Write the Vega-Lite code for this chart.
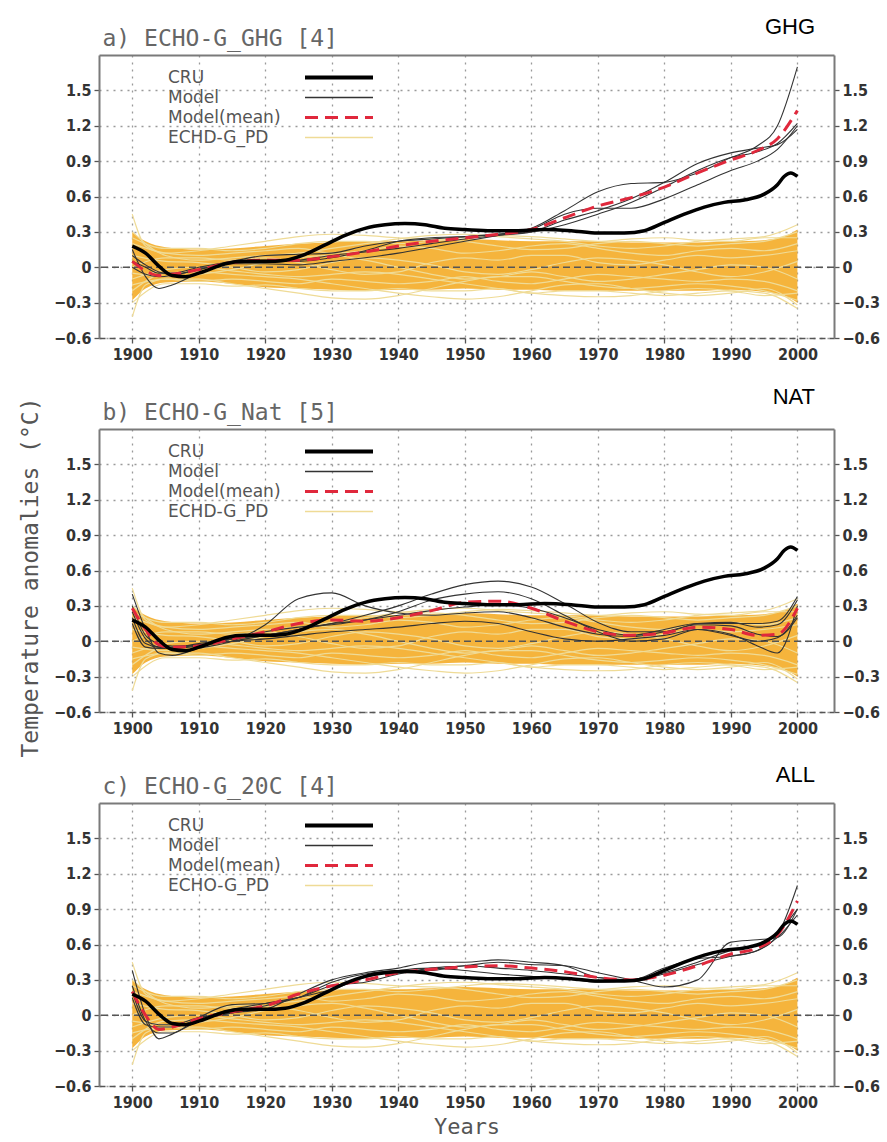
{
  "$schema": "https://vega.github.io/schema/vega-lite/v6.json",
  "padding": {"left": 19, "top": 16, "right": 5, "bottom": 0},
  "bounds": "flush",
  "spacing": 91,
  "resolve": {"scale": {"color": "independent"}, "legend": {"color": "independent"}},
  "datasets": {
    "cru": [
      {"year":1900,"t":0.18},{"year":1902,"t":0.12},{"year":1904,"t":0.01},{"year":1906,"t":-0.07},{"year":1908,"t":-0.08},{"year":1910,"t":-0.05},{"year":1912,"t":-0.01},{"year":1914,"t":0.03},{"year":1917,"t":0.05},{"year":1920,"t":0.05},{"year":1923,"t":0.06},{"year":1926,"t":0.11},{"year":1929,"t":0.19},{"year":1932,"t":0.27},{"year":1935,"t":0.33},{"year":1938,"t":0.36},{"year":1941,"t":0.37},{"year":1944,"t":0.36},{"year":1947,"t":0.33},{"year":1950,"t":0.32},{"year":1954,"t":0.31},{"year":1958,"t":0.31},{"year":1962,"t":0.32},{"year":1966,"t":0.31},{"year":1970,"t":0.29},{"year":1974,"t":0.29},{"year":1977,"t":0.31},{"year":1980,"t":0.38},{"year":1983,"t":0.45},{"year":1986,"t":0.51},{"year":1989,"t":0.55},{"year":1992,"t":0.57},{"year":1995,"t":0.62},{"year":1997,"t":0.70},{"year":1998,"t":0.77},{"year":1999,"t":0.80},{"year":2000,"t":0.77}
    ],
    "pdBand": [
      {"year":1900,"lo":-0.28,"hi":0.30},{"year":1902,"lo":-0.18,"hi":0.22},{"year":1905,"lo":-0.13,"hi":0.17},{"year":1910,"lo":-0.12,"hi":0.15},{"year":1915,"lo":-0.14,"hi":0.16},{"year":1920,"lo":-0.17,"hi":0.18},{"year":1925,"lo":-0.18,"hi":0.20},{"year":1930,"lo":-0.19,"hi":0.21},{"year":1935,"lo":-0.20,"hi":0.22},{"year":1940,"lo":-0.19,"hi":0.22},{"year":1945,"lo":-0.19,"hi":0.23},{"year":1950,"lo":-0.18,"hi":0.24},{"year":1955,"lo":-0.19,"hi":0.23},{"year":1960,"lo":-0.19,"hi":0.22},{"year":1965,"lo":-0.20,"hi":0.22},{"year":1970,"lo":-0.20,"hi":0.22},{"year":1975,"lo":-0.20,"hi":0.21},{"year":1980,"lo":-0.20,"hi":0.21},{"year":1985,"lo":-0.20,"hi":0.21},{"year":1990,"lo":-0.19,"hi":0.22},{"year":1995,"lo":-0.21,"hi":0.23},{"year":1998,"lo":-0.24,"hi":0.26},{"year":2000,"lo":-0.30,"hi":0.32}
    ],
    "pdLines": [
      {"run":"p1","year":1900,"t":0.45},{"run":"p1","year":1902,"t":0.18},{"run":"p1","year":1905,"t":0.12},{"run":"p1","year":1910,"t":0.14},{"run":"p1","year":1915,"t":0.18},{"run":"p1","year":1920,"t":0.22},{"run":"p1","year":1925,"t":0.26},{"run":"p1","year":1930,"t":0.28},{"run":"p1","year":1935,"t":0.27},{"run":"p1","year":1940,"t":0.25},{"run":"p1","year":1945,"t":0.24},{"run":"p1","year":1950,"t":0.22},{"run":"p1","year":1955,"t":0.18},{"run":"p1","year":1960,"t":0.15},{"run":"p1","year":1965,"t":0.16},{"run":"p1","year":1970,"t":0.20},{"run":"p1","year":1975,"t":0.22},{"run":"p1","year":1980,"t":0.20},{"run":"p1","year":1985,"t":0.18},{"run":"p1","year":1990,"t":0.20},{"run":"p1","year":1995,"t":0.22},{"run":"p1","year":2000,"t":0.30},
      {"run":"p2","year":1900,"t":-0.42},{"run":"p2","year":1902,"t":-0.15},{"run":"p2","year":1905,"t":-0.10},{"run":"p2","year":1910,"t":-0.10},{"run":"p2","year":1915,"t":-0.14},{"run":"p2","year":1920,"t":-0.18},{"run":"p2","year":1925,"t":-0.22},{"run":"p2","year":1930,"t":-0.26},{"run":"p2","year":1935,"t":-0.27},{"run":"p2","year":1940,"t":-0.24},{"run":"p2","year":1945,"t":-0.18},{"run":"p2","year":1950,"t":-0.12},{"run":"p2","year":1955,"t":-0.08},{"run":"p2","year":1960,"t":-0.08},{"run":"p2","year":1965,"t":-0.12},{"run":"p2","year":1970,"t":-0.16},{"run":"p2","year":1975,"t":-0.18},{"run":"p2","year":1980,"t":-0.16},{"run":"p2","year":1985,"t":-0.14},{"run":"p2","year":1990,"t":-0.16},{"run":"p2","year":1995,"t":-0.20},{"run":"p2","year":2000,"t":-0.28},
      {"run":"p3","year":1900,"t":-0.20},{"run":"p3","year":1905,"t":-0.05},{"run":"p3","year":1910,"t":-0.04},{"run":"p3","year":1915,"t":-0.06},{"run":"p3","year":1920,"t":-0.08},{"run":"p3","year":1925,"t":-0.10},{"run":"p3","year":1930,"t":-0.14},{"run":"p3","year":1935,"t":-0.18},{"run":"p3","year":1940,"t":-0.22},{"run":"p3","year":1945,"t":-0.25},{"run":"p3","year":1950,"t":-0.27},{"run":"p3","year":1955,"t":-0.25},{"run":"p3","year":1960,"t":-0.20},{"run":"p3","year":1965,"t":-0.15},{"run":"p3","year":1970,"t":-0.14},{"run":"p3","year":1975,"t":-0.18},{"run":"p3","year":1980,"t":-0.22},{"run":"p3","year":1985,"t":-0.24},{"run":"p3","year":1990,"t":-0.22},{"run":"p3","year":1995,"t":-0.18},{"run":"p3","year":2000,"t":-0.32},
      {"run":"p4","year":1900,"t":-0.10},{"run":"p4","year":1905,"t":-0.02},{"run":"p4","year":1910,"t":0.00},{"run":"p4","year":1915,"t":-0.03},{"run":"p4","year":1920,"t":-0.06},{"run":"p4","year":1925,"t":-0.08},{"run":"p4","year":1930,"t":-0.06},{"run":"p4","year":1935,"t":-0.04},{"run":"p4","year":1940,"t":-0.06},{"run":"p4","year":1945,"t":-0.10},{"run":"p4","year":1950,"t":-0.14},{"run":"p4","year":1955,"t":-0.18},{"run":"p4","year":1960,"t":-0.22},{"run":"p4","year":1965,"t":-0.24},{"run":"p4","year":1970,"t":-0.25},{"run":"p4","year":1975,"t":-0.24},{"run":"p4","year":1980,"t":-0.20},{"run":"p4","year":1985,"t":-0.18},{"run":"p4","year":1990,"t":-0.20},{"run":"p4","year":1995,"t":-0.24},{"run":"p4","year":2000,"t":-0.22},
      {"run":"p5","year":1900,"t":0.30},{"run":"p5","year":1905,"t":0.10},{"run":"p5","year":1910,"t":0.06},{"run":"p5","year":1915,"t":0.08},{"run":"p5","year":1920,"t":0.10},{"run":"p5","year":1925,"t":0.12},{"run":"p5","year":1930,"t":0.16},{"run":"p5","year":1935,"t":0.20},{"run":"p5","year":1940,"t":0.24},{"run":"p5","year":1945,"t":0.27},{"run":"p5","year":1950,"t":0.28},{"run":"p5","year":1955,"t":0.26},{"run":"p5","year":1960,"t":0.24},{"run":"p5","year":1965,"t":0.22},{"run":"p5","year":1970,"t":0.18},{"run":"p5","year":1975,"t":0.16},{"run":"p5","year":1980,"t":0.18},{"run":"p5","year":1985,"t":0.22},{"run":"p5","year":1990,"t":0.24},{"run":"p5","year":1995,"t":0.26},{"run":"p5","year":2000,"t":0.36},
      {"run":"p6","year":1900,"t":0.10},{"run":"p6","year":1905,"t":0.05},{"run":"p6","year":1910,"t":0.04},{"run":"p6","year":1915,"t":0.00},{"run":"p6","year":1920,"t":-0.04},{"run":"p6","year":1925,"t":-0.02},{"run":"p6","year":1930,"t":0.04},{"run":"p6","year":1935,"t":0.08},{"run":"p6","year":1940,"t":0.06},{"run":"p6","year":1945,"t":0.02},{"run":"p6","year":1950,"t":-0.04},{"run":"p6","year":1955,"t":-0.06},{"run":"p6","year":1960,"t":-0.02},{"run":"p6","year":1965,"t":0.04},{"run":"p6","year":1970,"t":0.08},{"run":"p6","year":1975,"t":0.06},{"run":"p6","year":1980,"t":0.02},{"run":"p6","year":1985,"t":-0.04},{"run":"p6","year":1990,"t":-0.08},{"run":"p6","year":1995,"t":-0.04},{"run":"p6","year":2000,"t":0.05},
      {"run":"p7","year":1900,"t":-0.05},{"run":"p7","year":1905,"t":-0.08},{"run":"p7","year":1910,"t":-0.06},{"run":"p7","year":1915,"t":-0.02},{"run":"p7","year":1920,"t":0.04},{"run":"p7","year":1925,"t":0.08},{"run":"p7","year":1930,"t":0.10},{"run":"p7","year":1935,"t":0.06},{"run":"p7","year":1940,"t":0.00},{"run":"p7","year":1945,"t":-0.06},{"run":"p7","year":1950,"t":-0.10},{"run":"p7","year":1955,"t":-0.08},{"run":"p7","year":1960,"t":-0.04},{"run":"p7","year":1965,"t":-0.08},{"run":"p7","year":1970,"t":-0.12},{"run":"p7","year":1975,"t":-0.10},{"run":"p7","year":1980,"t":-0.06},{"run":"p7","year":1985,"t":-0.02},{"run":"p7","year":1990,"t":0.02},{"run":"p7","year":1995,"t":0.00},{"run":"p7","year":2000,"t":-0.10},
      {"run":"p8","year":1900,"t":0.20},{"run":"p8","year":1905,"t":0.12},{"run":"p8","year":1910,"t":0.10},{"run":"p8","year":1915,"t":0.12},{"run":"p8","year":1920,"t":0.14},{"run":"p8","year":1925,"t":0.16},{"run":"p8","year":1930,"t":0.12},{"run":"p8","year":1935,"t":0.14},{"run":"p8","year":1940,"t":0.18},{"run":"p8","year":1945,"t":0.16},{"run":"p8","year":1950,"t":0.12},{"run":"p8","year":1955,"t":0.14},{"run":"p8","year":1960,"t":0.18},{"run":"p8","year":1965,"t":0.20},{"run":"p8","year":1970,"t":0.16},{"run":"p8","year":1975,"t":0.12},{"run":"p8","year":1980,"t":0.10},{"run":"p8","year":1985,"t":0.14},{"run":"p8","year":1990,"t":0.16},{"run":"p8","year":1995,"t":0.14},{"run":"p8","year":2000,"t":0.20},
      {"run":"p9","year":1900,"t":-0.15},{"run":"p9","year":1905,"t":-0.10},{"run":"p9","year":1910,"t":-0.12},{"run":"p9","year":1915,"t":-0.10},{"run":"p9","year":1920,"t":-0.12},{"run":"p9","year":1925,"t":-0.14},{"run":"p9","year":1930,"t":-0.10},{"run":"p9","year":1935,"t":-0.12},{"run":"p9","year":1940,"t":-0.14},{"run":"p9","year":1945,"t":-0.12},{"run":"p9","year":1950,"t":-0.08},{"run":"p9","year":1955,"t":-0.12},{"run":"p9","year":1960,"t":-0.14},{"run":"p9","year":1965,"t":-0.10},{"run":"p9","year":1970,"t":-0.06},{"run":"p9","year":1975,"t":-0.08},{"run":"p9","year":1980,"t":-0.10},{"run":"p9","year":1985,"t":-0.12},{"run":"p9","year":1990,"t":-0.10},{"run":"p9","year":1995,"t":-0.12},{"run":"p9","year":2000,"t":-0.20},
      {"run":"p10","year":1900,"t":0.00},{"run":"p10","year":1905,"t":0.08},{"run":"p10","year":1910,"t":0.08},{"run":"p10","year":1915,"t":0.06},{"run":"p10","year":1920,"t":0.08},{"run":"p10","year":1925,"t":0.04},{"run":"p10","year":1930,"t":-0.02},{"run":"p10","year":1935,"t":-0.06},{"run":"p10","year":1940,"t":-0.04},{"run":"p10","year":1945,"t":0.04},{"run":"p10","year":1950,"t":0.08},{"run":"p10","year":1955,"t":0.06},{"run":"p10","year":1960,"t":0.10},{"run":"p10","year":1965,"t":0.10},{"run":"p10","year":1970,"t":0.04},{"run":"p10","year":1975,"t":0.02},{"run":"p10","year":1980,"t":0.06},{"run":"p10","year":1985,"t":0.10},{"run":"p10","year":1990,"t":0.08},{"run":"p10","year":1995,"t":0.10},{"run":"p10","year":2000,"t":0.14},
      {"run":"p11","year":1900,"t":0.25},{"run":"p11","year":1905,"t":0.16},{"run":"p11","year":1910,"t":0.16},{"run":"p11","year":1915,"t":0.14},{"run":"p11","year":1920,"t":0.16},{"run":"p11","year":1925,"t":0.20},{"run":"p11","year":1930,"t":0.22},{"run":"p11","year":1935,"t":0.22},{"run":"p11","year":1940,"t":0.20},{"run":"p11","year":1945,"t":0.22},{"run":"p11","year":1950,"t":0.25},{"run":"p11","year":1955,"t":0.27},{"run":"p11","year":1960,"t":0.26},{"run":"p11","year":1965,"t":0.24},{"run":"p11","year":1970,"t":0.22},{"run":"p11","year":1975,"t":0.24},{"run":"p11","year":1980,"t":0.25},{"run":"p11","year":1985,"t":0.23},{"run":"p11","year":1990,"t":0.22},{"run":"p11","year":1995,"t":0.25},{"run":"p11","year":2000,"t":0.25},
      {"run":"p12","year":1900,"t":-0.30},{"run":"p12","year":1905,"t":-0.14},{"run":"p12","year":1910,"t":-0.14},{"run":"p12","year":1915,"t":-0.16},{"run":"p12","year":1920,"t":-0.15},{"run":"p12","year":1925,"t":-0.18},{"run":"p12","year":1930,"t":-0.20},{"run":"p12","year":1935,"t":-0.20},{"run":"p12","year":1940,"t":-0.18},{"run":"p12","year":1945,"t":-0.20},{"run":"p12","year":1950,"t":-0.20},{"run":"p12","year":1955,"t":-0.18},{"run":"p12","year":1960,"t":-0.22},{"run":"p12","year":1965,"t":-0.20},{"run":"p12","year":1970,"t":-0.20},{"run":"p12","year":1975,"t":-0.22},{"run":"p12","year":1980,"t":-0.24},{"run":"p12","year":1985,"t":-0.22},{"run":"p12","year":1990,"t":-0.20},{"run":"p12","year":1995,"t":-0.22},{"run":"p12","year":2000,"t":-0.35}
    ],
    "ghgRuns": [
      {"run":"g1","year":1900,"t":0.15},{"run":"g1","year":1902,"t":-0.08},{"run":"g1","year":1904,"t":-0.18},{"run":"g1","year":1906,"t":-0.15},{"run":"g1","year":1910,"t":-0.05},{"run":"g1","year":1915,"t":0.04},{"run":"g1","year":1920,"t":0.06},{"run":"g1","year":1925,"t":0.05},{"run":"g1","year":1930,"t":0.08},{"run":"g1","year":1935,"t":0.14},{"run":"g1","year":1940,"t":0.22},{"run":"g1","year":1945,"t":0.25},{"run":"g1","year":1950,"t":0.26},{"run":"g1","year":1955,"t":0.28},{"run":"g1","year":1960,"t":0.33},{"run":"g1","year":1965,"t":0.48},{"run":"g1","year":1970,"t":0.64},{"run":"g1","year":1975,"t":0.71},{"run":"g1","year":1980,"t":0.72},{"run":"g1","year":1985,"t":0.80},{"run":"g1","year":1990,"t":0.93},{"run":"g1","year":1994,"t":1.03},{"run":"g1","year":1997,"t":1.20},{"run":"g1","year":2000,"t":1.70},
      {"run":"g2","year":1900,"t":0.05},{"run":"g2","year":1902,"t":0.00},{"run":"g2","year":1904,"t":-0.05},{"run":"g2","year":1906,"t":-0.05},{"run":"g2","year":1910,"t":0.00},{"run":"g2","year":1915,"t":0.05},{"run":"g2","year":1920,"t":0.10},{"run":"g2","year":1925,"t":0.11},{"run":"g2","year":1930,"t":0.12},{"run":"g2","year":1935,"t":0.18},{"run":"g2","year":1940,"t":0.22},{"run":"g2","year":1945,"t":0.24},{"run":"g2","year":1950,"t":0.26},{"run":"g2","year":1955,"t":0.28},{"run":"g2","year":1960,"t":0.30},{"run":"g2","year":1965,"t":0.36},{"run":"g2","year":1970,"t":0.45},{"run":"g2","year":1975,"t":0.55},{"run":"g2","year":1980,"t":0.68},{"run":"g2","year":1985,"t":0.82},{"run":"g2","year":1990,"t":0.93},{"run":"g2","year":1994,"t":0.98},{"run":"g2","year":1997,"t":1.05},{"run":"g2","year":2000,"t":1.22},
      {"run":"g3","year":1900,"t":0.00},{"run":"g3","year":1902,"t":-0.06},{"run":"g3","year":1904,"t":-0.08},{"run":"g3","year":1906,"t":-0.07},{"run":"g3","year":1910,"t":-0.02},{"run":"g3","year":1915,"t":0.03},{"run":"g3","year":1920,"t":0.03},{"run":"g3","year":1925,"t":0.02},{"run":"g3","year":1930,"t":0.05},{"run":"g3","year":1935,"t":0.08},{"run":"g3","year":1940,"t":0.12},{"run":"g3","year":1945,"t":0.17},{"run":"g3","year":1950,"t":0.22},{"run":"g3","year":1955,"t":0.27},{"run":"g3","year":1960,"t":0.32},{"run":"g3","year":1965,"t":0.45},{"run":"g3","year":1970,"t":0.50},{"run":"g3","year":1975,"t":0.50},{"run":"g3","year":1980,"t":0.58},{"run":"g3","year":1985,"t":0.70},{"run":"g3","year":1990,"t":0.82},{"run":"g3","year":1994,"t":0.90},{"run":"g3","year":1997,"t":1.00},{"run":"g3","year":2000,"t":1.20},
      {"run":"g4","year":1900,"t":0.10},{"run":"g4","year":1902,"t":0.02},{"run":"g4","year":1904,"t":-0.04},{"run":"g4","year":1906,"t":-0.06},{"run":"g4","year":1910,"t":-0.02},{"run":"g4","year":1915,"t":0.04},{"run":"g4","year":1920,"t":0.04},{"run":"g4","year":1925,"t":0.06},{"run":"g4","year":1930,"t":0.10},{"run":"g4","year":1935,"t":0.13},{"run":"g4","year":1940,"t":0.16},{"run":"g4","year":1945,"t":0.20},{"run":"g4","year":1950,"t":0.24},{"run":"g4","year":1955,"t":0.27},{"run":"g4","year":1960,"t":0.30},{"run":"g4","year":1965,"t":0.40},{"run":"g4","year":1970,"t":0.48},{"run":"g4","year":1975,"t":0.58},{"run":"g4","year":1980,"t":0.72},{"run":"g4","year":1985,"t":0.88},{"run":"g4","year":1990,"t":0.97},{"run":"g4","year":1994,"t":1.01},{"run":"g4","year":1997,"t":1.04},{"run":"g4","year":2000,"t":1.17}
    ],
    "ghgMean": [
      {"year":1900,"t":0.05},{"year":1902,"t":-0.03},{"year":1904,"t":-0.07},{"year":1906,"t":-0.06},{"year":1910,"t":-0.02},{"year":1915,"t":0.04},{"year":1920,"t":0.06},{"year":1925,"t":0.06},{"year":1930,"t":0.09},{"year":1935,"t":0.13},{"year":1940,"t":0.18},{"year":1945,"t":0.22},{"year":1950,"t":0.25},{"year":1955,"t":0.28},{"year":1960,"t":0.32},{"year":1965,"t":0.42},{"year":1970,"t":0.52},{"year":1975,"t":0.59},{"year":1980,"t":0.68},{"year":1985,"t":0.80},{"year":1990,"t":0.91},{"year":1994,"t":0.99},{"year":1997,"t":1.09},{"year":2000,"t":1.33}
    ],
    "natRuns": [
      {"run":"n1","year":1900,"t":0.40},{"run":"n1","year":1902,"t":0.10},{"run":"n1","year":1904,"t":-0.10},{"run":"n1","year":1906,"t":-0.12},{"run":"n1","year":1910,"t":-0.06},{"run":"n1","year":1915,"t":0.00},{"run":"n1","year":1920,"t":0.14},{"run":"n1","year":1925,"t":0.36},{"run":"n1","year":1930,"t":0.41},{"run":"n1","year":1935,"t":0.30},{"run":"n1","year":1940,"t":0.24},{"run":"n1","year":1945,"t":0.22},{"run":"n1","year":1950,"t":0.24},{"run":"n1","year":1955,"t":0.25},{"run":"n1","year":1960,"t":0.20},{"run":"n1","year":1965,"t":0.12},{"run":"n1","year":1970,"t":0.06},{"run":"n1","year":1975,"t":0.04},{"run":"n1","year":1980,"t":0.08},{"run":"n1","year":1985,"t":0.14},{"run":"n1","year":1990,"t":0.13},{"run":"n1","year":1994,"t":0.06},{"run":"n1","year":1997,"t":0.04},{"run":"n1","year":2000,"t":0.20},
      {"run":"n2","year":1900,"t":0.25},{"run":"n2","year":1902,"t":0.02},{"run":"n2","year":1904,"t":-0.05},{"run":"n2","year":1906,"t":-0.06},{"run":"n2","year":1910,"t":-0.03},{"run":"n2","year":1915,"t":0.00},{"run":"n2","year":1920,"t":0.05},{"run":"n2","year":1925,"t":0.10},{"run":"n2","year":1930,"t":0.15},{"run":"n2","year":1935,"t":0.22},{"run":"n2","year":1940,"t":0.30},{"run":"n2","year":1945,"t":0.40},{"run":"n2","year":1950,"t":0.48},{"run":"n2","year":1955,"t":0.51},{"run":"n2","year":1960,"t":0.46},{"run":"n2","year":1965,"t":0.32},{"run":"n2","year":1970,"t":0.16},{"run":"n2","year":1975,"t":0.08},{"run":"n2","year":1980,"t":0.08},{"run":"n2","year":1985,"t":0.15},{"run":"n2","year":1990,"t":0.16},{"run":"n2","year":1994,"t":0.12},{"run":"n2","year":1997,"t":0.14},{"run":"n2","year":2000,"t":0.35},
      {"run":"n3","year":1900,"t":0.20},{"run":"n3","year":1902,"t":-0.02},{"run":"n3","year":1904,"t":-0.05},{"run":"n3","year":1906,"t":-0.05},{"run":"n3","year":1910,"t":-0.02},{"run":"n3","year":1915,"t":0.02},{"run":"n3","year":1920,"t":0.05},{"run":"n3","year":1925,"t":0.10},{"run":"n3","year":1930,"t":0.15},{"run":"n3","year":1935,"t":0.18},{"run":"n3","year":1940,"t":0.25},{"run":"n3","year":1945,"t":0.35},{"run":"n3","year":1950,"t":0.40},{"run":"n3","year":1955,"t":0.42},{"run":"n3","year":1960,"t":0.36},{"run":"n3","year":1965,"t":0.22},{"run":"n3","year":1970,"t":0.08},{"run":"n3","year":1975,"t":0.00},{"run":"n3","year":1980,"t":0.02},{"run":"n3","year":1985,"t":0.10},{"run":"n3","year":1990,"t":0.06},{"run":"n3","year":1994,"t":-0.04},{"run":"n3","year":1997,"t":-0.10},{"run":"n3","year":2000,"t":0.30},
      {"run":"n4","year":1900,"t":0.15},{"run":"n4","year":1902,"t":-0.05},{"run":"n4","year":1904,"t":-0.06},{"run":"n4","year":1906,"t":-0.06},{"run":"n4","year":1910,"t":-0.04},{"run":"n4","year":1915,"t":0.00},{"run":"n4","year":1920,"t":0.02},{"run":"n4","year":1925,"t":0.05},{"run":"n4","year":1930,"t":0.08},{"run":"n4","year":1935,"t":0.10},{"run":"n4","year":1940,"t":0.12},{"run":"n4","year":1945,"t":0.15},{"run":"n4","year":1950,"t":0.17},{"run":"n4","year":1955,"t":0.15},{"run":"n4","year":1960,"t":0.08},{"run":"n4","year":1965,"t":0.02},{"run":"n4","year":1970,"t":0.00},{"run":"n4","year":1975,"t":0.02},{"run":"n4","year":1980,"t":0.05},{"run":"n4","year":1985,"t":0.10},{"run":"n4","year":1990,"t":0.05},{"run":"n4","year":1994,"t":0.00},{"run":"n4","year":1997,"t":0.03},{"run":"n4","year":2000,"t":0.22},
      {"run":"n5","year":1900,"t":0.30},{"run":"n5","year":1902,"t":0.05},{"run":"n5","year":1904,"t":-0.02},{"run":"n5","year":1906,"t":-0.04},{"run":"n5","year":1910,"t":-0.03},{"run":"n5","year":1915,"t":0.02},{"run":"n5","year":1920,"t":0.08},{"run":"n5","year":1925,"t":0.12},{"run":"n5","year":1930,"t":0.14},{"run":"n5","year":1935,"t":0.18},{"run":"n5","year":1940,"t":0.22},{"run":"n5","year":1945,"t":0.26},{"run":"n5","year":1950,"t":0.29},{"run":"n5","year":1955,"t":0.31},{"run":"n5","year":1960,"t":0.28},{"run":"n5","year":1965,"t":0.20},{"run":"n5","year":1970,"t":0.10},{"run":"n5","year":1975,"t":0.05},{"run":"n5","year":1980,"t":0.10},{"run":"n5","year":1985,"t":0.15},{"run":"n5","year":1990,"t":0.15},{"run":"n5","year":1994,"t":0.15},{"run":"n5","year":1997,"t":0.17},{"run":"n5","year":2000,"t":0.38}
    ],
    "natMean": [
      {"year":1900,"t":0.28},{"year":1902,"t":0.10},{"year":1904,"t":-0.03},{"year":1906,"t":-0.05},{"year":1910,"t":-0.04},{"year":1915,"t":0.02},{"year":1920,"t":0.08},{"year":1925,"t":0.15},{"year":1930,"t":0.18},{"year":1935,"t":0.17},{"year":1940,"t":0.20},{"year":1945,"t":0.26},{"year":1950,"t":0.33},{"year":1955,"t":0.34},{"year":1960,"t":0.28},{"year":1965,"t":0.17},{"year":1970,"t":0.08},{"year":1975,"t":0.05},{"year":1980,"t":0.07},{"year":1985,"t":0.12},{"year":1990,"t":0.10},{"year":1994,"t":0.05},{"year":1997,"t":0.06},{"year":2000,"t":0.28}
    ],
    "allRuns": [
      {"run":"a1","year":1900,"t":0.25},{"run":"a1","year":1902,"t":-0.05},{"run":"a1","year":1904,"t":-0.15},{"run":"a1","year":1906,"t":-0.15},{"run":"a1","year":1910,"t":-0.02},{"run":"a1","year":1915,"t":0.09},{"run":"a1","year":1920,"t":0.10},{"run":"a1","year":1925,"t":0.15},{"run":"a1","year":1930,"t":0.25},{"run":"a1","year":1935,"t":0.28},{"run":"a1","year":1940,"t":0.35},{"run":"a1","year":1945,"t":0.40},{"run":"a1","year":1950,"t":0.42},{"run":"a1","year":1955,"t":0.45},{"run":"a1","year":1960,"t":0.43},{"run":"a1","year":1965,"t":0.42},{"run":"a1","year":1970,"t":0.36},{"run":"a1","year":1975,"t":0.30},{"run":"a1","year":1980,"t":0.24},{"run":"a1","year":1985,"t":0.30},{"run":"a1","year":1990,"t":0.62},{"run":"a1","year":1994,"t":0.64},{"run":"a1","year":1997,"t":0.66},{"run":"a1","year":2000,"t":0.90},
      {"run":"a2","year":1900,"t":0.38},{"run":"a2","year":1902,"t":0.00},{"run":"a2","year":1904,"t":-0.20},{"run":"a2","year":1906,"t":-0.16},{"run":"a2","year":1910,"t":-0.05},{"run":"a2","year":1915,"t":0.02},{"run":"a2","year":1920,"t":0.05},{"run":"a2","year":1925,"t":0.18},{"run":"a2","year":1930,"t":0.30},{"run":"a2","year":1935,"t":0.36},{"run":"a2","year":1940,"t":0.40},{"run":"a2","year":1945,"t":0.45},{"run":"a2","year":1950,"t":0.45},{"run":"a2","year":1955,"t":0.47},{"run":"a2","year":1960,"t":0.45},{"run":"a2","year":1965,"t":0.42},{"run":"a2","year":1970,"t":0.32},{"run":"a2","year":1975,"t":0.30},{"run":"a2","year":1980,"t":0.40},{"run":"a2","year":1985,"t":0.48},{"run":"a2","year":1990,"t":0.50},{"run":"a2","year":1994,"t":0.55},{"run":"a2","year":1997,"t":0.68},{"run":"a2","year":2000,"t":1.10},
      {"run":"a3","year":1900,"t":0.15},{"run":"a3","year":1902,"t":-0.08},{"run":"a3","year":1904,"t":-0.10},{"run":"a3","year":1906,"t":-0.10},{"run":"a3","year":1910,"t":-0.03},{"run":"a3","year":1915,"t":0.05},{"run":"a3","year":1920,"t":0.10},{"run":"a3","year":1925,"t":0.15},{"run":"a3","year":1930,"t":0.22},{"run":"a3","year":1935,"t":0.32},{"run":"a3","year":1940,"t":0.38},{"run":"a3","year":1945,"t":0.40},{"run":"a3","year":1950,"t":0.38},{"run":"a3","year":1955,"t":0.35},{"run":"a3","year":1960,"t":0.33},{"run":"a3","year":1965,"t":0.31},{"run":"a3","year":1970,"t":0.28},{"run":"a3","year":1975,"t":0.30},{"run":"a3","year":1980,"t":0.36},{"run":"a3","year":1985,"t":0.45},{"run":"a3","year":1990,"t":0.55},{"run":"a3","year":1994,"t":0.60},{"run":"a3","year":1997,"t":0.70},{"run":"a3","year":2000,"t":0.90},
      {"run":"a4","year":1900,"t":0.20},{"run":"a4","year":1902,"t":-0.05},{"run":"a4","year":1904,"t":-0.08},{"run":"a4","year":1906,"t":-0.08},{"run":"a4","year":1910,"t":-0.02},{"run":"a4","year":1915,"t":0.02},{"run":"a4","year":1920,"t":0.08},{"run":"a4","year":1925,"t":0.15},{"run":"a4","year":1930,"t":0.28},{"run":"a4","year":1935,"t":0.35},{"run":"a4","year":1940,"t":0.38},{"run":"a4","year":1945,"t":0.38},{"run":"a4","year":1950,"t":0.42},{"run":"a4","year":1955,"t":0.40},{"run":"a4","year":1960,"t":0.38},{"run":"a4","year":1965,"t":0.35},{"run":"a4","year":1970,"t":0.32},{"run":"a4","year":1975,"t":0.30},{"run":"a4","year":1980,"t":0.35},{"run":"a4","year":1985,"t":0.43},{"run":"a4","year":1990,"t":0.50},{"run":"a4","year":1994,"t":0.55},{"run":"a4","year":1997,"t":0.66},{"run":"a4","year":2000,"t":0.85}
    ],
    "allMean": [
      {"year":1900,"t":0.20},{"year":1902,"t":0.00},{"year":1904,"t":-0.12},{"year":1906,"t":-0.10},{"year":1910,"t":-0.03},{"year":1915,"t":0.03},{"year":1920,"t":0.08},{"year":1925,"t":0.18},{"year":1930,"t":0.25},{"year":1935,"t":0.30},{"year":1940,"t":0.36},{"year":1945,"t":0.39},{"year":1950,"t":0.41},{"year":1955,"t":0.42},{"year":1960,"t":0.40},{"year":1965,"t":0.37},{"year":1970,"t":0.32},{"year":1975,"t":0.30},{"year":1980,"t":0.34},{"year":1985,"t":0.42},{"year":1990,"t":0.52},{"year":1994,"t":0.57},{"year":1997,"t":0.68},{"year":2000,"t":0.97}
    ]
  },
  "vconcat": [
    {
      "width": 735, "height": 283,
      "title": {"text": "GHG", "anchor": "end", "frame": "group", "dx": -19, "dy": 16},
      "layer": [
        {"data": {"name": "pdBand"}, "mark": {"type": "area", "color": "#f5b43c", "interpolate": "monotone"},
         "encoding": {
           "x": {"field": "year", "type": "quantitative", "scale": {"domain": [1895, 2005.5], "nice": false, "zero": false},
                 "axis": {"orient": "bottom", "values": [1900,1910,1920,1930,1940,1950,1960,1970,1980,1990,2000], "format": "d", "grid": true, "domainColor": "#555555", "domainDash": [6,4], "domainWidth": 1.5, "title": null}},
           "y": {"field": "lo", "type": "quantitative", "scale": {"domain": [-0.6, 1.8], "nice": false, "zero": false},
                 "axis": {"orient": "left", "values": [-0.6,-0.3,0,0.3,0.6,0.9,1.2,1.5], "format": ".1~f", "grid": true, "domainColor": "#7a7a7a", "domainWidth": 2, "title": null}},
           "y2": {"field": "hi"}}},
        {"data": {"name": "pdLines"}, "mark": {"type": "line", "strokeWidth": 1.2, "interpolate": "monotone"},
         "encoding": {
           "x": {"field": "year", "type": "quantitative", "axis": null},
           "y": {"field": "t", "type": "quantitative", "axis": null},
           "detail": {"field": "run"},
           "color": {"datum": "ECHD-G_PD", "type": "nominal",
                     "scale": {"domain": ["CRU","Model","Model(mean)","ECHD-G_PD"], "range": ["#000000","#333333","#e0283c","#efdb96"]},
                     "legend": {"title": null, "encode": {"symbols": {"update": {"strokeWidth": {"signal": "datum.value === 'CRU' ? 4 : datum.value === 'Model(mean)' ? 3 : 1.3"}, "strokeDash": {"signal": "datum.value === 'Model(mean)' ? [13, 7] : [1, 0]"}}}}}}}},
        {"data": {"values": [{}]}, "mark": {"type": "rule", "color": "#555555", "strokeDash": [7,4], "strokeWidth": 1.5},
         "encoding": {"y": {"datum": 0, "type": "quantitative", "axis": null}}},
        {"data": {"name": "ghgRuns"}, "mark": {"type": "line", "strokeWidth": 1.1, "interpolate": "monotone"},
         "encoding": {
           "x": {"field": "year", "type": "quantitative", "axis": null},
           "y": {"field": "t", "type": "quantitative", "axis": null},
           "detail": {"field": "run"},
           "color": {"datum": "Model", "type": "nominal", "scale": {"domain": ["CRU","Model","Model(mean)","ECHD-G_PD"], "range": ["#000000","#333333","#e0283c","#efdb96"]}}}},
        {"data": {"name": "ghgMean"}, "mark": {"type": "line", "strokeWidth": 3, "strokeDash": [13,7], "interpolate": "monotone"},
         "encoding": {
           "x": {"field": "year", "type": "quantitative", "axis": null},
           "y": {"field": "t", "type": "quantitative", "axis": null},
           "color": {"datum": "Model(mean)", "type": "nominal", "scale": {"domain": ["CRU","Model","Model(mean)","ECHD-G_PD"], "range": ["#000000","#333333","#e0283c","#efdb96"]}}}},
        {"data": {"name": "cru"}, "mark": {"type": "line", "strokeWidth": 3.5, "interpolate": "monotone"},
         "encoding": {
           "x": {"field": "year", "type": "quantitative",
                 "axis": {"orient": "top", "labels": false, "ticks": false, "grid": false, "domainColor": "#7a7a7a", "domainWidth": 2, "title": "a) ECHO-G_GHG [4]", "titleAnchor": "start", "titleAlign": "left", "titleX": 3, "titleY": -10, "titleBaseline": "alphabetic", "titleFont": "DejaVu Sans Mono", "titleFontSize": 23, "titleColor": "#666666"}},
           "y": {"field": "t", "type": "quantitative",
                 "axis": {"orient": "right", "values": [-0.6,-0.3,0,0.3,0.6,0.9,1.2,1.5], "format": ".1~f", "grid": false, "domainColor": "#7a7a7a", "domainWidth": 2, "title": null}},
           "color": {"datum": "CRU", "type": "nominal", "scale": {"domain": ["CRU","Model","Model(mean)","ECHD-G_PD"], "range": ["#000000","#333333","#e0283c","#efdb96"]}}}}
      ]
    },
    {
      "width": 735, "height": 283,
      "title": {"text": "NAT", "anchor": "end", "frame": "group", "dx": -19, "dy": 16},
      "layer": [
        {"data": {"name": "pdBand"}, "mark": {"type": "area", "color": "#f5b43c", "interpolate": "monotone"},
         "encoding": {
           "x": {"field": "year", "type": "quantitative", "scale": {"domain": [1895, 2005.5], "nice": false, "zero": false},
                 "axis": {"orient": "bottom", "values": [1900,1910,1920,1930,1940,1950,1960,1970,1980,1990,2000], "format": "d", "grid": true, "domainColor": "#555555", "domainDash": [6,4], "domainWidth": 1.5, "title": null}},
           "y": {"field": "lo", "type": "quantitative", "scale": {"domain": [-0.6, 1.8], "nice": false, "zero": false},
                 "axis": {"orient": "left", "values": [-0.6,-0.3,0,0.3,0.6,0.9,1.2,1.5], "format": ".1~f", "grid": true, "domainColor": "#7a7a7a", "domainWidth": 2, "title": "Temperature anomalies (°C)", "titlePadding": 11, "titleY": 148, "titleFont": "DejaVu Sans Mono", "titleFontSize": 23}},
           "y2": {"field": "hi"}}},
        {"data": {"name": "pdLines"}, "mark": {"type": "line", "strokeWidth": 1.2, "interpolate": "monotone"},
         "encoding": {
           "x": {"field": "year", "type": "quantitative", "axis": null},
           "y": {"field": "t", "type": "quantitative", "axis": null},
           "detail": {"field": "run"},
           "color": {"datum": "ECHD-G_PD", "type": "nominal",
                     "scale": {"domain": ["CRU","Model","Model(mean)","ECHD-G_PD"], "range": ["#000000","#333333","#e0283c","#efdb96"]},
                     "legend": {"title": null, "encode": {"symbols": {"update": {"strokeWidth": {"signal": "datum.value === 'CRU' ? 4 : datum.value === 'Model(mean)' ? 3 : 1.3"}, "strokeDash": {"signal": "datum.value === 'Model(mean)' ? [13, 7] : [1, 0]"}}}}}}}},
        {"data": {"values": [{}]}, "mark": {"type": "rule", "color": "#555555", "strokeDash": [7,4], "strokeWidth": 1.5},
         "encoding": {"y": {"datum": 0, "type": "quantitative", "axis": null}}},
        {"data": {"name": "natRuns"}, "mark": {"type": "line", "strokeWidth": 1.1, "interpolate": "monotone"},
         "encoding": {
           "x": {"field": "year", "type": "quantitative", "axis": null},
           "y": {"field": "t", "type": "quantitative", "axis": null},
           "detail": {"field": "run"},
           "color": {"datum": "Model", "type": "nominal", "scale": {"domain": ["CRU","Model","Model(mean)","ECHD-G_PD"], "range": ["#000000","#333333","#e0283c","#efdb96"]}}}},
        {"data": {"name": "natMean"}, "mark": {"type": "line", "strokeWidth": 3, "strokeDash": [13,7], "interpolate": "monotone"},
         "encoding": {
           "x": {"field": "year", "type": "quantitative", "axis": null},
           "y": {"field": "t", "type": "quantitative", "axis": null},
           "color": {"datum": "Model(mean)", "type": "nominal", "scale": {"domain": ["CRU","Model","Model(mean)","ECHD-G_PD"], "range": ["#000000","#333333","#e0283c","#efdb96"]}}}},
        {"data": {"name": "cru"}, "mark": {"type": "line", "strokeWidth": 3.5, "interpolate": "monotone"},
         "encoding": {
           "x": {"field": "year", "type": "quantitative",
                 "axis": {"orient": "top", "labels": false, "ticks": false, "grid": false, "domainColor": "#7a7a7a", "domainWidth": 2, "title": "b) ECHO-G_Nat [5]", "titleAnchor": "start", "titleAlign": "left", "titleX": 3, "titleY": -10, "titleBaseline": "alphabetic", "titleFont": "DejaVu Sans Mono", "titleFontSize": 23, "titleColor": "#666666"}},
           "y": {"field": "t", "type": "quantitative",
                 "axis": {"orient": "right", "values": [-0.6,-0.3,0,0.3,0.6,0.9,1.2,1.5], "format": ".1~f", "grid": false, "domainColor": "#7a7a7a", "domainWidth": 2, "title": null}},
           "color": {"datum": "CRU", "type": "nominal", "scale": {"domain": ["CRU","Model","Model(mean)","ECHD-G_PD"], "range": ["#000000","#333333","#e0283c","#efdb96"]}}}}
      ]
    },
    {
      "width": 735, "height": 283,
      "title": {"text": "ALL", "anchor": "end", "frame": "group", "dx": -19, "dy": 16},
      "layer": [
        {"data": {"name": "pdBand"}, "mark": {"type": "area", "color": "#f5b43c", "interpolate": "monotone"},
         "encoding": {
           "x": {"field": "year", "type": "quantitative", "scale": {"domain": [1895, 2005.5], "nice": false, "zero": false},
                 "axis": {"orient": "bottom", "values": [1900,1910,1920,1930,1940,1950,1960,1970,1980,1990,2000], "format": "d", "grid": true, "domainColor": "#555555", "domainDash": [6,4], "domainWidth": 1.5, "title": "Years", "titlePadding": 6, "titleFont": "DejaVu Sans Mono", "titleFontSize": 22}},
           "y": {"field": "lo", "type": "quantitative", "scale": {"domain": [-0.6, 1.8], "nice": false, "zero": false},
                 "axis": {"orient": "left", "values": [-0.6,-0.3,0,0.3,0.6,0.9,1.2,1.5], "format": ".1~f", "grid": true, "domainColor": "#7a7a7a", "domainWidth": 2, "title": null}},
           "y2": {"field": "hi"}}},
        {"data": {"name": "pdLines"}, "mark": {"type": "line", "strokeWidth": 1.2, "interpolate": "monotone"},
         "encoding": {
           "x": {"field": "year", "type": "quantitative", "axis": null},
           "y": {"field": "t", "type": "quantitative", "axis": null},
           "detail": {"field": "run"},
           "color": {"datum": "ECHO-G_PD", "type": "nominal",
                     "scale": {"domain": ["CRU","Model","Model(mean)","ECHO-G_PD"], "range": ["#000000","#333333","#e0283c","#efdb96"]},
                     "legend": {"title": null, "encode": {"symbols": {"update": {"strokeWidth": {"signal": "datum.value === 'CRU' ? 4 : datum.value === 'Model(mean)' ? 3 : 1.3"}, "strokeDash": {"signal": "datum.value === 'Model(mean)' ? [13, 7] : [1, 0]"}}}}}}}},
        {"data": {"values": [{}]}, "mark": {"type": "rule", "color": "#555555", "strokeDash": [7,4], "strokeWidth": 1.5},
         "encoding": {"y": {"datum": 0, "type": "quantitative", "axis": null}}},
        {"data": {"name": "allRuns"}, "mark": {"type": "line", "strokeWidth": 1.1, "interpolate": "monotone"},
         "encoding": {
           "x": {"field": "year", "type": "quantitative", "axis": null},
           "y": {"field": "t", "type": "quantitative", "axis": null},
           "detail": {"field": "run"},
           "color": {"datum": "Model", "type": "nominal", "scale": {"domain": ["CRU","Model","Model(mean)","ECHO-G_PD"], "range": ["#000000","#333333","#e0283c","#efdb96"]}}}},
        {"data": {"name": "allMean"}, "mark": {"type": "line", "strokeWidth": 3, "strokeDash": [13,7], "interpolate": "monotone"},
         "encoding": {
           "x": {"field": "year", "type": "quantitative", "axis": null},
           "y": {"field": "t", "type": "quantitative", "axis": null},
           "color": {"datum": "Model(mean)", "type": "nominal", "scale": {"domain": ["CRU","Model","Model(mean)","ECHO-G_PD"], "range": ["#000000","#333333","#e0283c","#efdb96"]}}}},
        {"data": {"name": "cru"}, "mark": {"type": "line", "strokeWidth": 3.5, "interpolate": "monotone"},
         "encoding": {
           "x": {"field": "year", "type": "quantitative",
                 "axis": {"orient": "top", "labels": false, "ticks": false, "grid": false, "domainColor": "#7a7a7a", "domainWidth": 2, "title": "c) ECHO-G_20C [4]", "titleAnchor": "start", "titleAlign": "left", "titleX": 3, "titleY": -10, "titleBaseline": "alphabetic", "titleFont": "DejaVu Sans Mono", "titleFontSize": 23, "titleColor": "#666666"}},
           "y": {"field": "t", "type": "quantitative",
                 "axis": {"orient": "right", "values": [-0.6,-0.3,0,0.3,0.6,0.9,1.2,1.5], "format": ".1~f", "grid": false, "domainColor": "#7a7a7a", "domainWidth": 2, "title": null}},
           "color": {"datum": "CRU", "type": "nominal", "scale": {"domain": ["CRU","Model","Model(mean)","ECHO-G_PD"], "range": ["#000000","#333333","#e0283c","#efdb96"]}}}}
      ]
    }
  ],
  "config": {
    "view": {"stroke": null},
    "axis": {
      "labelFont": "Liberation Sans Narrow, DejaVu Sans Condensed, sans-serif", "labelFontWeight": "bold", "labelFontSize": 16, "labelColor": "#333333",
      "tickColor": "#555555", "tickSize": 5, "tickWidth": 1.3, "labelPadding": 3,
      "gridColor": "#9a9a9a", "gridDash": [2,5], "gridWidth": 1.3,
      "titleFont": "DejaVu Sans Mono", "titleFontWeight": "normal", "titleColor": "#555555", "titleFontSize": 22
    },
    "legend": {
      "orient": "none", "legendX": 69, "legendY": 14,
      "symbolType": "stroke", "symbolSize": 4624,
      "labelOffset": -179.5, "symbolOffset": 162.5,
      "labelFont": "DejaVu Sans", "labelFontSize": 17, "labelColor": "#555555", "labelLimit": 300,
      "rowPadding": 2
    },
    "title": {"font": "Liberation Sans, Arial, sans-serif", "fontSize": 22, "fontWeight": "normal", "color": "#000000"}
  }
}
